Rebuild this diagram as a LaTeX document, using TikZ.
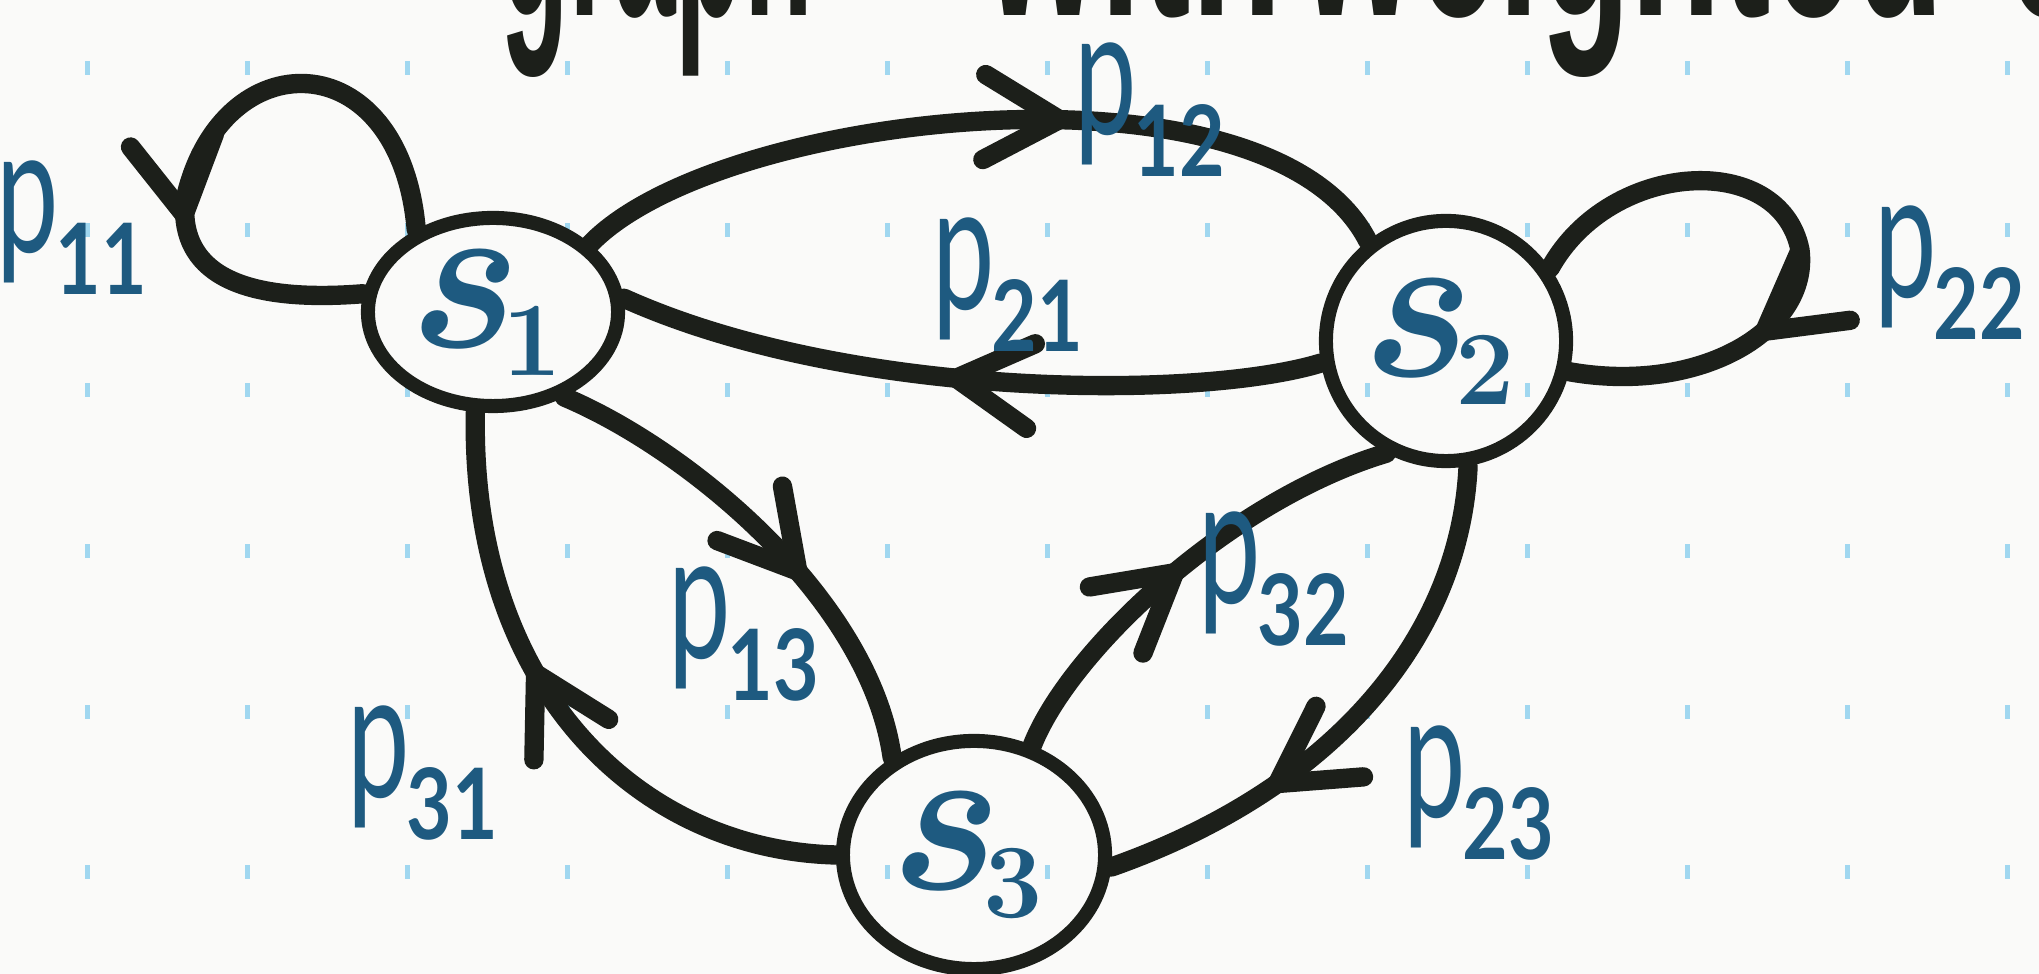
\documentclass[tikz,border=0pt]{standalone}
\usepackage{fontspec}
\newfontfamily\labfont{Lato}
\newfontfamily\topfont{Liberation Sans}
\usetikzlibrary{arrows.meta,decorations.markings,shapes.geometric}
\definecolor{ink}{RGB}{28,31,26}
\definecolor{pblue}{RGB}{30,90,128}
\definecolor{dotblue}{RGB}{160,215,240}
\definecolor{paper}{RGB}{250,250,249}
\newcommand{\plab}[1]{\scalebox{0.72}[1.15]{\fontsize{44}{44}\selectfont p}\kern-1pt\raisebox{-12pt}{\scalebox{0.8}[1]{\fontsize{28}{28}\selectfont\bfseries #1}}}
\newcommand{\slab}[1]{{\fontsize{62}{62}\selectfont\bfseries\itshape s}\kern-2pt\raisebox{-8pt}{\fontsize{30}{30}\selectfont\bfseries #1}}
\tikzset{
  state/.style={ellipse, draw=ink, line width=4pt, inner sep=0pt, text=pblue},
  edge/.style={draw=ink, line width=5.5pt, line cap=round},
  arrowat/.style={postaction={decorate}, decoration={markings, mark=at position #1 with {\arrow[ink, line width=5.5pt]{Straight Barb[length=7.5mm,width=8.5mm,round]}}}},
  plabel/.style={text=pblue, font=\labfont, inner sep=0pt},
  topword/.style={anchor=base west, text=ink, inner sep=0pt, font=\topfont\bfseries\fontsize{64}{64}\selectfont},
}
\begin{document}
\begin{tikzpicture}[x=0.01cm,y=-0.01cm]
\fill[paper] (0,0) rectangle (2039,974);
\useasboundingbox (0,0) rectangle (2039,974);
\clip (0,0) rectangle (2039,974);
% dot grid
\foreach \x in {87,247,...,2007}
  \foreach \y in {68,230,390,551,712,872}
    \fill[dotblue] (\x-2.5,\y-7) rectangle (\x+2.5,\y+7);
% clipped heading
\node[topword] (w1) at (500,16) {\scalebox{0.5}[1.3]{graph}};
\node[topword] (w2) at (984,16) {\scalebox{0.66}[1.3]{with}};
\node[topword] (w3) at (1300,16) {\scalebox{0.66}[1.3]{weighted}};
\node[topword] (w4) at (2005,16) {\scalebox{0.66}[1.3]{edges}};
% states
\node[state, minimum width=2.5cm, minimum height=1.88cm] (s1) at (493,312) {\kern-6pt\slab{1}};
\node[state, circle, minimum size=2.4cm] (s2) at (1446,341) {\kern-6pt\slab{2}};
\node[state, minimum width=2.62cm, minimum height=2.28cm] (s3) at (974,855) {\kern-6pt\slab{3}};
% edges
\draw[edge, arrowat=0.66] (s1.133) .. controls (400,40) and (220,40) .. (185,200) .. controls (180,260) and (220,305) .. (s1.172);
\draw[edge, arrowat=0.6] (s1.35) .. controls (720,110) and (1270,50) .. (s2.128);
\draw[edge, arrowat=0.53] (s2.190) .. controls (1200,400) and (850,400) .. (s1.6);
\draw[edge, arrowat=0.68] (s2.35) .. controls (1610,160) and (1780,150) .. (1800,250) .. controls (1810,330) and (1700,395) .. (s2.-14);
\draw[edge, arrowat=0.6] (s1.-50) .. controls (690,450) and (870,600) .. (s3.130);
\draw[edge, arrowat=0.59] (s3.180) .. controls (640,850) and (470,690) .. (s1.-100);
\draw[edge, arrowat=0.5] (s3.62) .. controls (1070,650) and (1230,500) .. (s2.-118);
\draw[edge, arrowat=0.69] (s2.-80) .. controls (1460,640) and (1330,790) .. (s3.-5);
% labels
\node[plabel] (l11) at (72,228) {\plab{11}};
\node[plabel] (l12) at (1150,110) {\plab{12}};
\node[plabel] (l21) at (1008,285) {\plab{21}};
\node[plabel] (l22) at (1950,273) {\plab{22}};
\node[plabel] (l13) at (744,634) {\plab{13}};
\node[plabel] (l32) at (1274,579) {\plab{32}};
\node[plabel] (l31) at (423,773) {\plab{31}};
\node[plabel] (l23) at (1479,793) {\plab{23}};
\end{tikzpicture}
\end{document}
